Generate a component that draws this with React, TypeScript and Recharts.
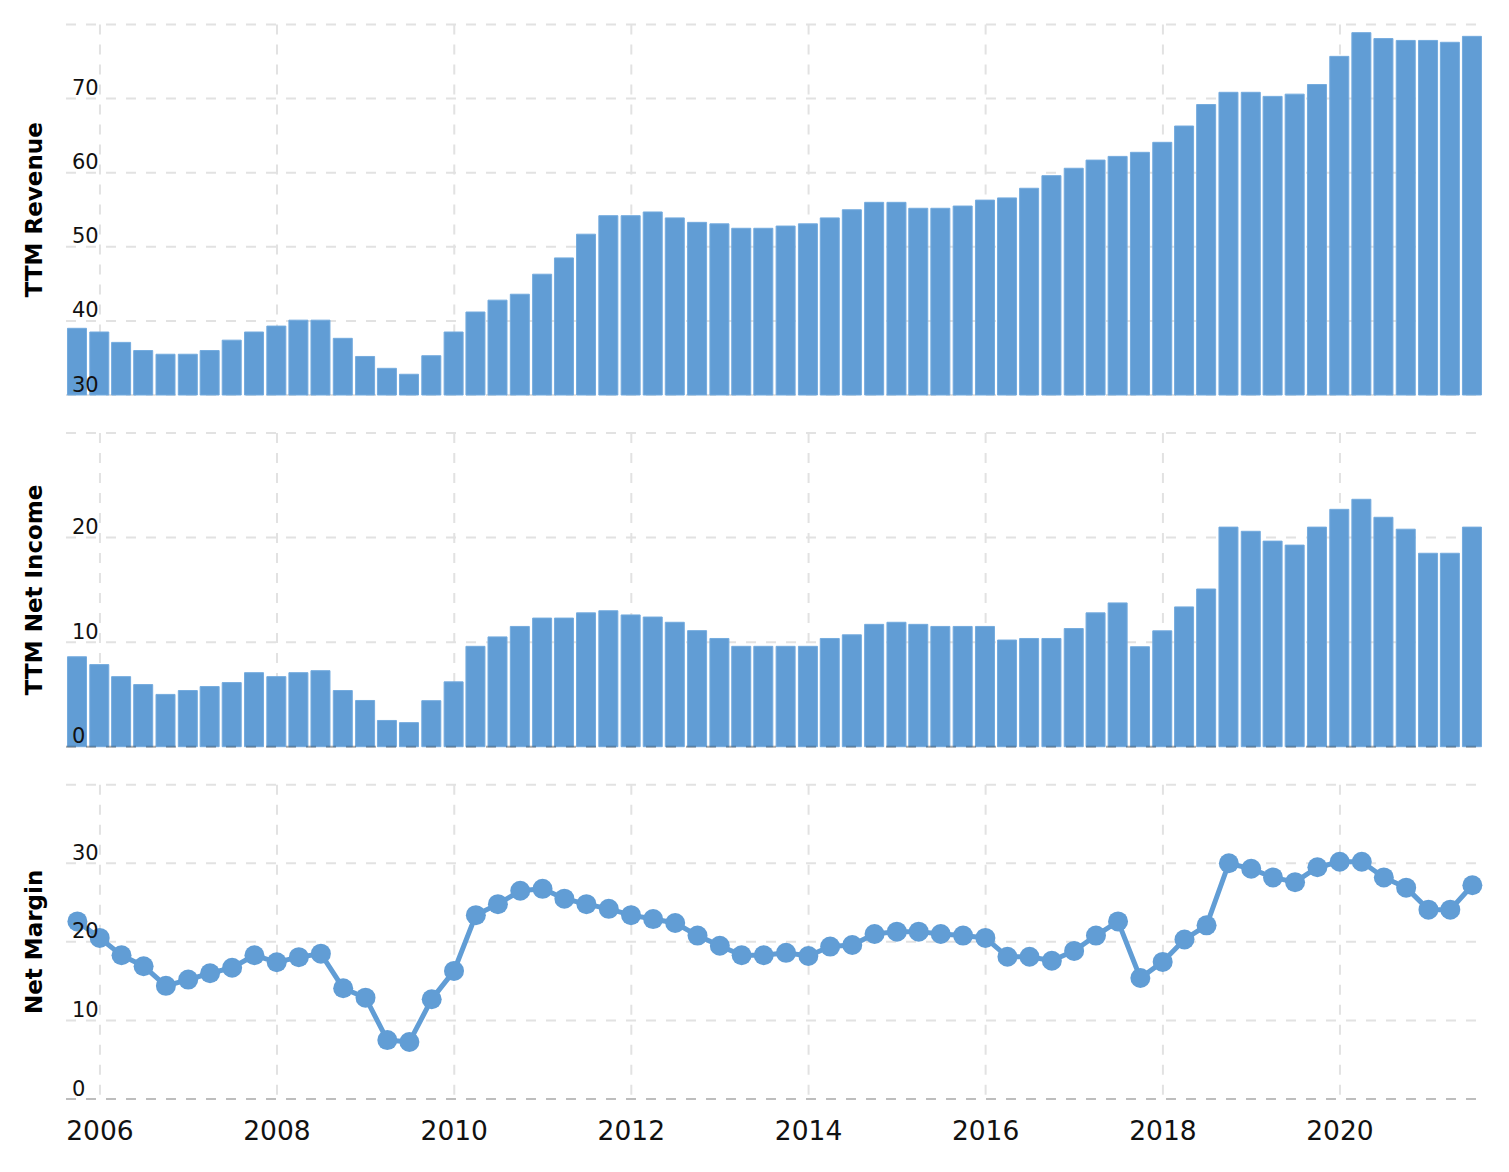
import React from 'react';
import { BarChart, Bar, LineChart, Line, XAxis, YAxis, CartesianGrid, ReferenceLine } from 'recharts';

const quarters = [
  '2005-09-30', '2005-12-31',
  '2006-03-31', '2006-06-30', '2006-09-30', '2006-12-31',
  '2007-03-31', '2007-06-30', '2007-09-30', '2007-12-31',
  '2008-03-31', '2008-06-30', '2008-09-30', '2008-12-31',
  '2009-03-31', '2009-06-30', '2009-09-30', '2009-12-31',
  '2010-03-31', '2010-06-30', '2010-09-30', '2010-12-31',
  '2011-03-31', '2011-06-30', '2011-09-30', '2011-12-31',
  '2012-03-31', '2012-06-30', '2012-09-30', '2012-12-31',
  '2013-03-31', '2013-06-30', '2013-09-30', '2013-12-31',
  '2014-03-31', '2014-06-30', '2014-09-30', '2014-12-31',
  '2015-03-31', '2015-06-30', '2015-09-30', '2015-12-31',
  '2016-03-31', '2016-06-30', '2016-09-30', '2016-12-31',
  '2017-03-31', '2017-06-30', '2017-09-30', '2017-12-31',
  '2018-03-31', '2018-06-30', '2018-09-30', '2018-12-31',
  '2019-03-31', '2019-06-30', '2019-09-30', '2019-12-31',
  '2020-03-31', '2020-06-30', '2020-09-30', '2020-12-31',
  '2021-03-31', '2021-06-30',
];

const revenue = [
  39.0, 38.5,
  37.1, 36.0, 35.5, 35.5,
  36.0, 37.4, 38.5, 39.3,
  40.1, 40.1, 37.65, 35.2,
  33.6, 32.8, 35.3, 38.5,
  41.2, 42.8, 43.6, 46.3,
  48.5, 51.7, 54.2, 54.2,
  54.7, 53.9, 53.3, 53.1,
  52.5, 52.5, 52.8, 53.1,
  53.9, 55.0, 56.0, 56.0,
  55.2, 55.2, 55.5, 56.3,
  56.6, 57.9, 59.6, 60.6,
  61.7, 62.2, 62.75, 64.1,
  66.3, 69.2, 70.85, 70.85,
  70.3, 70.6, 71.9, 75.7,
  78.9, 78.1, 77.85, 77.85,
  77.6, 78.4,
];

const netIncome = [
  8.6, 7.85,
  6.7, 5.94, 5.0, 5.37,
  5.75, 6.13, 7.08, 6.7,
  7.08, 7.27, 5.37, 4.42,
  2.51, 2.3, 4.4, 6.2,
  9.6, 10.5, 11.5, 12.3,
  12.3, 12.8, 13.0, 12.6,
  12.4, 11.9, 11.1, 10.35,
  9.6, 9.6, 9.6, 9.6,
  10.35, 10.7, 11.7, 11.9,
  11.7, 11.5, 11.5, 11.5,
  10.2, 10.35, 10.35, 11.3,
  12.8, 13.75, 9.56, 11.08,
  13.37, 15.08, 21.0, 20.6,
  19.66, 19.28, 21.0, 22.7,
  23.66, 21.94, 20.8, 18.5,
  18.5, 21.0,
];

const netMargin = [
  22.6, 20.5,
  18.3, 16.9, 14.4, 15.2,
  16.0, 16.7, 18.3, 17.4,
  18.05, 18.5, 14.1, 12.9,
  7.5, 7.26, 12.7, 16.3,
  23.4, 24.8, 26.5, 26.75,
  25.5, 24.8, 24.2, 23.4,
  22.9, 22.4, 20.8, 19.5,
  18.3, 18.3, 18.6, 18.2,
  19.4, 19.6, 21.0, 21.3,
  21.3, 21.0, 20.8, 20.5,
  18.1, 18.1, 17.6, 18.85,
  20.8, 22.6, 15.4, 17.45,
  20.3, 22.1, 30.0, 29.3,
  28.2, 27.6, 29.5, 30.2,
  30.2, 28.2, 26.9, 24.1,
  24.1, 27.2,
];

const yearLabels = [2006, 2008, 2010, 2012, 2014, 2016, 2018, 2020];
const revenueTicks = [30, 40, 50, 60, 70, 80];
const incomeTicks = [0, 10, 20, 30];
const marginTicks = [0, 10, 20, 30, 40];

const FONT = "'DejaVu Sans', Verdana, sans-serif";
const BLUE = '#619dd5';
const GRID = '#e2e2e2';

const toTime = (s: string) => {
  const [y, m, d] = s.split('-').map(Number);
  return Date.UTC(y, m - 1, d);
};

const data = quarters.map((q, i) => ({
  t: toTime(q),
  revenue: revenue[i],
  netIncome: netIncome[i],
  netMargin: netMargin[i],
}));

const xTicks = yearLabels.map((y) => Date.UTC(y, 0, 1));
const xDomain = [Date.UTC(2005, 7, 14), Date.UTC(2021, 6, 15)];

const verticalGen = (props: any) => {
  const axis = props && props.xAxis;
  const scale = axis && axis.scale;
  if (typeof scale === 'function') return xTicks.map((t) => scale(t));
  if (scale && typeof scale.map === 'function') return xTicks.map((t) => scale.map(t));
  const off = (props && props.offset) || { left: 66, width: 1410 };
  return xTicks.map((t) => off.left + ((t - xDomain[0]) / (xDomain[1] - xDomain[0])) * off.width);
};

const makeYTick = (max: number) => (props: any) => {
  const { x, y, payload } = props;
  if (payload.value === max) return <g />;
  return (
    <text x={x + 6} y={y - 3.5} fontSize={21} fontFamily={FONT} fill="#111" textAnchor="start">
      {payload.value}
    </text>
  );
};

const XTick = (props: any) => {
  const { x, y, payload } = props;
  const yr = new Date(payload.value).getUTCFullYear();
  return (
    <text x={x} y={y + 41} fontSize={26.5} fontFamily={FONT} fill="#111" textAnchor="middle">
      {yr}
    </text>
  );
};

const makeTitle = (text: string) => (props: any) => {
  const vb = props.viewBox || { y: 0, height: 0 };
  const cx = 34;
  const cy = vb.y + vb.height / 2;
  return (
    <text
      x={cx}
      y={cy}
      transform={`rotate(-90, ${cx}, ${cy})`}
      textAnchor="middle"
      dy="0.36em"
      fontSize={23}
      fontWeight="bold"
      fontFamily={FONT}
      fill="#000"
    >
      {text}
    </text>
  );
};

const W = 1509;

export default function App() {
  return (
    <div style={{ position: 'absolute', left: 0, top: 0, width: W, height: 1172, background: '#fff' }}>
      <div style={{ position: 'absolute', left: 0, top: 0 }}>
        <BarChart width={W} height={400} data={data} margin={{ top: 24.5, right: 33, bottom: 5, left: 0 }}>
          <CartesianGrid stroke={GRID} strokeWidth={2} strokeDasharray="10 10" verticalCoordinatesGenerator={verticalGen} />
          <XAxis
            dataKey="t"
            type="number"
            domain={xDomain}
            ticks={xTicks}
            interval={0}
            height={0}
            tick={() => <g />}
            axisLine={false}
            tickLine={false}
          />
          <YAxis
            type="number"
            domain={[30, 80]}
            ticks={revenueTicks}
            interval={0}
            width={66}
            axisLine={false}
            tickLine={false}
            tickSize={0}
            tickMargin={0}
            tick={makeYTick(80)}
            label={makeTitle('TTM Revenue')}
          />
          <Bar dataKey="revenue" fill={BLUE} stroke="#74abde" strokeWidth={1} barSize={19} isAnimationActive={false} />
        </BarChart>
      </div>
      <div style={{ position: 'absolute', left: 0, top: 420 }}>
        <BarChart width={W} height={340} data={data} margin={{ top: 13, right: 33, bottom: 13.3, left: 0 }}>
          <CartesianGrid stroke={GRID} strokeWidth={2} strokeDasharray="10 10" verticalCoordinatesGenerator={verticalGen} />
          <XAxis
            dataKey="t"
            type="number"
            domain={xDomain}
            ticks={xTicks}
            interval={0}
            height={0}
            tick={() => <g />}
            axisLine={false}
            tickLine={false}
          />
          <YAxis
            type="number"
            domain={[0, 30]}
            ticks={incomeTicks}
            interval={0}
            width={66}
            axisLine={false}
            tickLine={false}
            tickSize={0}
            tickMargin={0}
            tick={makeYTick(30)}
            label={makeTitle('TTM Net Income')}
          />
          <Bar dataKey="netIncome" fill={BLUE} stroke="#74abde" strokeWidth={1} barSize={19} isAnimationActive={false} />
          <ReferenceLine y={0} stroke="rgba(0,0,0,0.25)" strokeWidth={2} strokeDasharray="10 10" />
        </BarChart>
      </div>
      <div style={{ position: 'absolute', left: 0, top: 770 }}>
        <LineChart width={W} height={402} data={data} margin={{ top: 14.7, right: 33, bottom: 23, left: 0 }}>
          <CartesianGrid stroke={GRID} strokeWidth={2} strokeDasharray="10 10" verticalCoordinatesGenerator={verticalGen} />
          <XAxis
            dataKey="t"
            type="number"
            domain={xDomain}
            ticks={xTicks}
            interval={0}
            height={50}
            axisLine={false}
            tickLine={false}
            tickSize={0}
            tickMargin={0}
            tick={<XTick />}
          />
          <YAxis
            type="number"
            domain={[0, 40]}
            ticks={marginTicks}
            interval={0}
            width={66}
            axisLine={false}
            tickLine={false}
            tickSize={0}
            tickMargin={0}
            tick={makeYTick(40)}
            label={makeTitle('Net Margin')}
          />
          <ReferenceLine y={0} stroke="#bdbdbd" strokeWidth={2} strokeDasharray="10 10" />
          <Line
            type="linear"
            dataKey="netMargin"
            stroke={BLUE}
            strokeWidth={5}
            dot={{ r: 10, fill: BLUE, stroke: BLUE, strokeWidth: 0 }}
            activeDot={false}
            isAnimationActive={false}
          />
        </LineChart>
      </div>
    </div>
  );
}
